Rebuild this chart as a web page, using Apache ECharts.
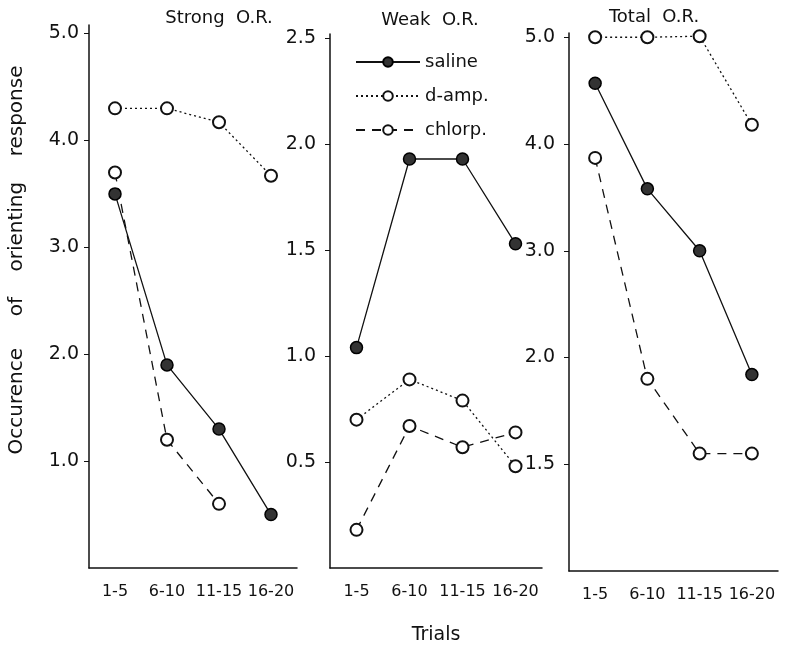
<!DOCTYPE html>
<html>
<head>
<meta charset="utf-8">
<script src="https://cdn.jsdelivr.net/npm/echarts@6/dist/echarts.min.js"></script>
<style>
html,body{margin:0;padding:0;background:#fff;}
#c{width:790px;height:646px;}
</style>
</head>
<body>
<div id="c"></div>
<script>
var categories = ["1-5", "6-10", "11-15", "16-20"];
var panelTitles = ["Strong  O.R.", "Weak  O.R.", "Total  O.R."];
var seriesNames = ["saline", "d-amp.", "chlorp."];

// Strong O.R.
var strongSaline = [3.5, 1.9, 1.3, 0.5];
var strongDamp = [4.3, 4.3, 4.17, 3.67];
var strongChlorp = [3.7, 1.2, 0.6, null];
// Weak O.R.
var weakSaline = [1.04, 1.93, 1.93, 1.53];
var weakDamp = [0.70, 0.89, 0.79, 0.48];
var weakChlorp = [0.18, 0.67, 0.57, 0.64];
// Total O.R.
var totalSaline = [4.57, 3.58, 3.0, 1.84];
var totalDamp = [5.0, 5.0, 5.01, 4.18];
var totalChlorp = [3.87, 1.80, 1.10, 1.10];

// tick values and the labels printed at them
var strongTicks = [1, 2, 3, 4, 5];
var strongTickLabels = ["1.0", "2.0", "3.0", "4.0", "5.0"];
var weakTicks = [0.5, 1, 1.5, 2, 2.5];
var weakTickLabels = ["0.5", "1.0", "1.5", "2.0", "2.5"];
var totalTicks = [1, 2, 3, 4, 5];
var totalTickLabels = ["1.5", "2.0", "3.0", "4.0", "5.0"];

var yAxisTitle = "Occurence     of    orienting    response";
var xAxisTitle = "Trials";

var FONT = "DejaVu Sans";
var INK = "#111";

function labelMap(ticks, labels) {
  return function (v) {
    for (var i = 0; i < ticks.length; i++) {
      if (Math.abs(ticks[i] - v) < 1e-6) return labels[i];
    }
    return "";
  };
}

var grids = [
  {left: 89, top: 25, width: 208, height: 543, containLabel: false, outerBoundsMode: "none"},
  {left: 330, top: 34, width: 212, height: 534, containLabel: false, outerBoundsMode: "none"},
  {left: 569, top: 33, width: 209, height: 538, containLabel: false, outerBoundsMode: "none"}
];
var yMax = [5.08, 2.52, 5.04];
var tickSets = [strongTicks, weakTicks, totalTicks];
var labelSets = [strongTickLabels, weakTickLabels, totalTickLabels];
var labelMargins = [10, 14, 14];

var xAxes = [], yAxes = [];
for (var i = 0; i < 3; i++) {
  xAxes.push({
    type: "category", gridIndex: i, data: categories, boundaryGap: true,
    axisLine: {lineStyle: {color: INK, width: 1.5}},
    axisTick: {alignWithLabel: true, inside: true, length: 4, interval: 0, lineStyle: {color: INK}},
    axisLabel: {color: INK, fontFamily: FONT, fontSize: 16, margin: 16, interval: 0},
    name: i === 1 ? xAxisTitle : "",
    nameLocation: "middle", nameGap: 58,
    nameTextStyle: {color: INK, fontFamily: FONT, fontSize: 19}
  });
  yAxes.push({
    type: "value", gridIndex: i, min: 0, max: yMax[i],
    splitLine: {show: false},
    axisLine: {show: true, lineStyle: {color: INK, width: 1.5}},
    axisTick: {show: true, length: 5, customValues: tickSets[i], lineStyle: {color: INK}},
    axisLabel: {color: INK, fontFamily: FONT, fontSize: 19, margin: labelMargins[i],
      customValues: tickSets[i], formatter: labelMap(tickSets[i], labelSets[i])}
  });
}

var styles = {
  "saline": {line: {type: "solid", width: 1.3, color: "#111"}, symbol: "circle",
    item: {color: "#333", borderColor: "#000", borderWidth: 1.5}},
  "d-amp.": {line: {type: [2, 3], width: 1.3, color: "#111"}, symbol: "emptyCircle",
    item: {color: "#111", borderColor: "#111", borderWidth: 1.3}},
  "chlorp.": {line: {type: [9, 7], width: 1.3, color: "#111"}, symbol: "emptyCircle",
    item: {color: "#111", borderColor: "#111", borderWidth: 1.3}}
};

var panelData = [
  [strongSaline, strongDamp, strongChlorp],
  [weakSaline, weakDamp, weakChlorp],
  [totalSaline, totalDamp, totalChlorp]
];

var series = [];
for (var p = 0; p < 3; p++) {
  for (var s = 0; s < 3; s++) {
    var st = styles[seriesNames[s]];
    series.push({
      type: "line", name: seriesNames[s], xAxisIndex: p, yAxisIndex: p,
      data: panelData[p][s], symbol: st.symbol, symbolSize: 12,
      showAllSymbol: true, connectNulls: false,
      lineStyle: st.line, itemStyle: st.item, z: s === 0 ? 4 : 3
    });
  }
}

var titles = [];
var titleCenters = [214, 425, 649];
var titleTops = [4, 6, 3];
for (var t = 0; t < 3; t++) {
  titles.push({
    text: panelTitles[t], left: titleCenters[t], top: titleTops[t], textAlign: "center",
    textStyle: {color: INK, fontFamily: FONT, fontSize: 18, fontWeight: "normal"}
  });
}

var chart = echarts.init(document.getElementById("c"), null, {renderer: "canvas"});
chart.setOption({
  backgroundColor: "#fff",
  animation: false,
  title: titles,
  grid: grids,
  xAxis: xAxes,
  yAxis: yAxes,
  legend: {
    orient: "vertical", left: 350, top: 48, itemWidth: 64, itemHeight: 12, itemGap: 16,
    data: seriesNames,
    textStyle: {color: INK, fontFamily: FONT, fontSize: 18}
  },
  graphic: [{
    type: "text", x: 17, y: 260, rotation: Math.PI / 2,
    style: {text: yAxisTitle, fill: INK, font: "20px '" + FONT + "'",
      textAlign: "center", textVerticalAlign: "middle"}
  }],
  series: series
});
</script>
</body>
</html>
